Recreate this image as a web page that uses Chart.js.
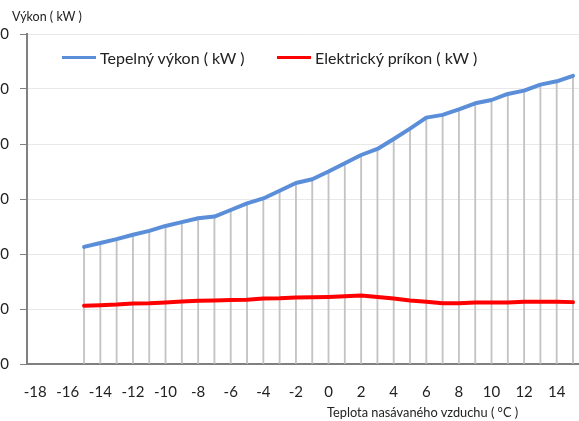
<!DOCTYPE html>
<html>
<head>
<meta charset="utf-8">
<script src="https://cdn.jsdelivr.net/npm/chart.js@4"></script>
<style>
  html, body { margin: 0; padding: 0; background: #fff; }
  body { width: 579px; height: 421px; position: relative; overflow: hidden; font-family: Lato, sans-serif; color: #222; }
  #wrap { position: absolute; left: -30px; top: 0; }
  .title { position: absolute; font-size: 12.5px; white-space: nowrap; }
  .legend { position: absolute; top: 48px; font-size: 16px; white-space: nowrap; display: flex; align-items: center; }
  .legend i { display: inline-block; width: 34px; height: 3px; margin-right: 4px; }
</style>
</head>
<body>
<div id="wrap"><canvas id="chart" width="622" height="421"></canvas></div>
<div class="title" style="left:12px; top:9px;">Výkon ( kW )</div>
<div class="title" style="left:327px; top:404px; font-size:12.8px;">Teplota nasávaného vzduchu ( °C )</div>
<div class="legend" style="left:62px;"><i style="background:#5B8ED8"></i>Tepelný výkon ( kW )</div>
<div class="legend" style="left:277px;"><i style="background:#FF0000"></i>Elektrický príkon ( kW )</div>
<script>
// axis categories (°C)
const categories = [-18, -17, -16, -15, -14, -13, -12, -11, -10, -9, -8, -7, -6, -5, -4, -3, -2, -1,
  0, 1, 2, 3, 4, 5, 6, 7, 8, 9, 10, 11, 12, 13, 14, 15];
// measured temperatures
const temps = [-15, -14, -13, -12, -11, -10, -9, -8, -7, -6, -5, -4, -3, -2, -1,
  0, 1, 2, 3, 4, 5, 6, 7, 8, 9, 10, 11, 12, 13, 14, 15];
const heatOutput = [21.3, 22.0, 22.7, 23.5, 24.2, 25.1, 25.8, 26.5, 26.8, 28.0, 29.2, 30.1, 31.5, 32.9, 33.6,
  35.0, 36.5, 38.0, 39.1, 40.9, 42.8, 44.8, 45.3, 46.3, 47.4, 48.0, 49.1, 49.7, 50.8, 51.4, 52.4];
const powerInput = [10.6, 10.7, 10.8, 11.0, 11.05, 11.2, 11.35, 11.5, 11.55, 11.65, 11.7, 11.9, 11.95, 12.1, 12.15,
  12.2, 12.3, 12.45, 12.2, 11.9, 11.55, 11.3, 11.05, 11.05, 11.2, 11.2, 11.2, 11.3, 11.3, 11.3, 11.25];
const yTicks = [0, 10, 20, 30, 40, 50, 60];

const pts = vals => temps.map((t, i) => ({ x: t, y: vals[i] }));
const font = { family: 'Lato, sans-serif', size: 15 };

new Chart(document.getElementById('chart').getContext('2d'), {
  data: {
    labels: categories,
    datasets: [
      {
        type: 'line',
        label: 'Tepelný výkon ( kW )',
        data: pts(heatOutput),
        borderColor: '#5B8ED8',
        borderWidth: 4,
        pointRadius: 0,
        borderCapStyle: 'round',
        borderJoinStyle: 'round',
        order: 1
      },
      {
        type: 'line',
        label: 'Elektrický príkon ( kW )',
        data: pts(powerInput),
        borderColor: '#FF0000',
        borderWidth: 4,
        pointRadius: 0,
        borderCapStyle: 'round',
        borderJoinStyle: 'round',
        order: 1
      },
      {
        // drop lines
        type: 'bar',
        label: 'drop',
        data: pts(heatOutput),
        backgroundColor: '#C4C4C4',
        barThickness: 1.2,
        order: 3
      }
    ]
  },
  options: {
    responsive: false,
    animation: false,
    devicePixelRatio: 1,
    layout: { padding: { top: 34, left: 0, right: 0, bottom: 0 } },
    plugins: {
      legend: { display: false },
      tooltip: { enabled: false }
    },
    scales: {
      x: {
        type: 'category',
        offset: true,
        grid: { display: true, drawOnChartArea: false, drawTicks: false },
        border: { color: '#808080', width: 2 },
        ticks: {
          autoSkip: false,
          maxRotation: 0,
          padding: 19,
          color: '#222',
          font: font,
          callback: function (v) {
            const c = categories[v];
            return c % 2 === 0 ? String(c) : '';
          }
        },
        afterFit: s => { s.height = 57; }
      },
      y: {
        min: yTicks[0],
        max: yTicks[yTicks.length - 1],
        afterBuildTicks: s => { s.ticks = yTicks.map(v => ({ value: v })); },
        grid: { color: '#E8E8E8', tickColor: '#808080', tickLength: 7 },
        border: { color: '#808080', width: 2 },
        ticks: { padding: 11, color: '#222', font: font },
        afterFit: s => { s.width = 57; }
      }
    }
  }
});
</script>
</body>
</html>
